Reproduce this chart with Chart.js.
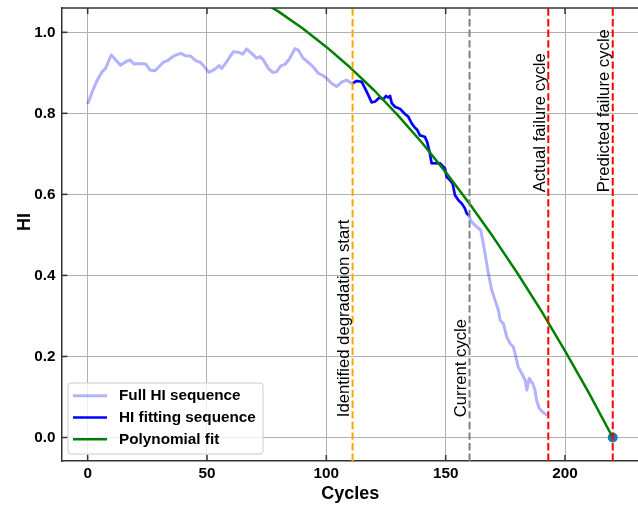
<!DOCTYPE html>
<html>
<head>
<meta charset="utf-8">
<script src="https://cdn.jsdelivr.net/npm/chart.js@4"></script>
<style>
html,body{margin:0;padding:0;overflow:hidden;background:#fff}
#wrap{width:644px;height:508px}
</style>
</head>
<body>
<div id="wrap"><canvas id="c" width="644" height="508"></canvas></div>
<script>
// ---------------- data ----------------
const fullCycles = [0,1.9,4,6.1,7.5,9.9,11.7,13.8,15.9,17.7,19.4,21.5,24.3,26.1,28.1,29.9,31.7,33.4,36.2,39,41.1,43.2,45.3,47.4,49.5,50.8,53.3,55.1,56.2,58.2,61,63.1,65,66.6,68.7,70.8,72.2,73.6,75.7,77.5,79.2,80.9,82.7,84.5,86.9,88.3,90.3,92.4,94.5,96.6,98.7,100.2,102.2,104.3,106.4,108.5,110.6,
  111,112.7,114.8,116.2,117.6,119,120.4,122.2,123.9,125,126,126.7,127.4,128.8,130.9,133,134.3,135.8,137.2,138.1,139.2,141.3,142.3,143.4,144.1,147.6,149.7,150.4,151.8,152.9,153.9,155.3,156.7,158.1,158.8,159.5,
  160.9,163,164.7,166.5,167.9,169.3,170.7,172.1,172.8,174.2,175.6,177,178.3,179.1,180.4,181.9,183.3,184,185,186.5,187.4,188.1,189.2,190.9,192.6];
const fullHI = [0.823,0.853,0.882,0.903,0.911,0.944,0.932,0.919,0.927,0.932,0.922,0.923,0.922,0.907,0.905,0.915,0.926,0.930,0.942,0.948,0.942,0.941,0.930,0.925,0.911,0.901,0.909,0.918,0.911,0.927,0.952,0.951,0.946,0.959,0.948,0.936,0.940,0.932,0.911,0.901,0.903,0.917,0.921,0.934,0.960,0.956,0.936,0.926,0.915,0.899,0.893,0.886,0.874,0.866,0.877,0.882,0.874,
  0.874,0.880,0.878,0.862,0.845,0.827,0.829,0.839,0.835,0.843,0.839,0.843,0.825,0.816,0.811,0.798,0.792,0.775,0.764,0.759,0.746,0.742,0.728,0.701,0.677,0.677,0.664,0.643,0.635,0.627,0.598,0.586,0.578,0.565,0.553,0.549,
  0.532,0.520,0.512,0.454,0.405,0.364,0.339,0.314,0.290,0.281,0.248,0.232,0.224,0.207,0.174,0.158,0.141,0.117,0.146,0.133,0.117,0.092,0.072,0.061,0.055];

const fitCycles = [111,112.7,114.8,116.2,117.6,119,120.4,122.2,123.9,125,126,126.7,127.4,128.8,130.9,133,134.3,135.8,137.2,138.1,139.2,141.3,142.3,143.4,144.1,147.6,149.7,150.4,151.8,152.9,153.9,155.3,156.7,158.1,158.8,159.5];
const fitHI = [0.874,0.880,0.878,0.862,0.845,0.827,0.829,0.839,0.835,0.843,0.839,0.843,0.825,0.816,0.811,0.798,0.792,0.775,0.764,0.759,0.746,0.742,0.728,0.701,0.677,0.677,0.664,0.643,0.635,0.627,0.598,0.586,0.578,0.565,0.553,0.549];

const polyCycles = [70,75,80,90,100,110,120,130,140,150,160,170,180,190,200,210,220];
const polyHI = [1.086,1.069,1.051,1.010,0.964,0.913,0.857,0.795,0.728,0.655,0.577,0.494,0.406,0.313,0.214,0.110,0.0];

const predCycle = [220];
const predHI = [0.0];

const vlineCycles = [111,160,193,220];
const vlineLabels = ['Identified degradation start','Current cycle','Actual failure cycle','Predicted failure cycle'];
const vlineLabelHI = [0.05,0.05,0.605,0.605];
const vlineColors = ['#ffa500','#808080','#ff0000','#ff0000'];

const xTicks = [0,50,100,150,200];
const yTicks = [0.0,0.2,0.4,0.6,0.8,1.0];
const xMin = -11, xMax = 231, yMin = -0.058, yMax = 1.06;

// ---------------- chart ----------------
const FONT = '"Liberation Sans", Arial, Helvetica, sans-serif';
const toXY = (xs, ys) => xs.map((x, i) => ({x: x, y: ys[i]}));

const datasets = [
  {label:'Full HI sequence', data: toXY(fullCycles, fullHI), borderColor:'rgba(0,0,255,0.3)', borderWidth:3, pointRadius:0, order:5, clip:0, borderJoinStyle:'round', inLegend:true},
  {label:'HI fitting sequence', data: toXY(fitCycles, fitHI), borderColor:'#0000ff', borderWidth:2.5, pointRadius:0, order:4, clip:0, borderJoinStyle:'round', inLegend:true},
  {label:'Polynomial fit', data: toXY(polyCycles, polyHI), borderColor:'#008000', borderWidth:2.5, pointRadius:0, order:3, clip:0, borderJoinStyle:'round', inLegend:true}
];
vlineCycles.forEach((c, i) => {
  datasets.push({label: vlineLabels[i], data:[{x:c, y:yMin},{x:c, y:yMax}], borderColor: vlineColors[i], borderWidth:2, borderDash:[7.4,3.2], pointRadius:0, order:2, clip:0});
});
datasets.push({type:'scatter', label:'Predicted', data: toXY(predCycle, predHI), pointRadius:5, pointBackgroundColor:'#1f77b4', pointBorderColor:'#1f77b4', borderWidth:0, order:6, clip:false});

const decor = {
  id: 'decor',
  afterDatasetsDraw(chart) {
    const {ctx, chartArea: a, scales: {x: xs, y: ys}} = chart;
    ctx.save();
    // top spine + inward ticks
    ctx.strokeStyle = '#333'; ctx.lineWidth = 1.5;
    ctx.beginPath(); ctx.moveTo(a.left, a.top); ctx.lineTo(a.right + 2, a.top); ctx.stroke();
    const tl = 6;
    xTicks.forEach(v => {
      const p = xs.getPixelForValue(v);
      ctx.beginPath(); ctx.moveTo(p, a.bottom); ctx.lineTo(p, a.bottom - tl); ctx.stroke();
      ctx.beginPath(); ctx.moveTo(p, a.top); ctx.lineTo(p, a.top + tl); ctx.stroke();
    });
    yTicks.forEach(v => {
      const p = ys.getPixelForValue(v);
      ctx.beginPath(); ctx.moveTo(a.left, p); ctx.lineTo(a.left + tl, p); ctx.stroke();
    });
    // vertical line labels
    ctx.fillStyle = '#000';
    ctx.font = '16.7px ' + FONT;
    vlineCycles.forEach((c, i) => {
      const px = xs.getPixelForValue(c), py = ys.getPixelForValue(vlineLabelHI[i]);
      ctx.save(); ctx.translate(px, py); ctx.rotate(-Math.PI / 2);
      ctx.textAlign = 'left'; ctx.textBaseline = 'bottom';
      ctx.fillText(vlineLabels[i], 0, 0);
      ctx.restore();
    });
    // y axis title
    ctx.save();
    ctx.font = 'bold 18px ' + FONT;
    ctx.translate(25.5, 222); ctx.rotate(-Math.PI / 2);
    ctx.textAlign = 'center'; ctx.textBaseline = 'middle';
    ctx.fillText('HI', 0, 0);
    ctx.restore();
    // legend
    const lx = a.left + 6.6, ly = a.bottom - 78, lw = 195, lh = 71;
    ctx.fillStyle = 'rgba(255,255,255,0.8)';
    ctx.strokeStyle = '#cccccc'; ctx.lineWidth = 1;
    ctx.beginPath();
    if (ctx.roundRect) ctx.roundRect(lx, ly, lw, lh, 3); else ctx.rect(lx, ly, lw, lh);
    ctx.fill(); ctx.stroke();
    ctx.font = 'bold 15.3px ' + FONT;
    ctx.textAlign = 'left'; ctx.textBaseline = 'middle';
    chart.data.datasets.filter(d => d.inLegend).forEach((d, i) => {
      const ry = ly + 12.7 + i * 21.8;
      ctx.strokeStyle = d.borderColor; ctx.lineWidth = d.borderWidth;
      ctx.beginPath(); ctx.moveTo(lx + 5, ry); ctx.lineTo(lx + 39, ry); ctx.stroke();
      ctx.fillStyle = '#000';
      ctx.fillText(d.label, lx + 51, ry + 0.5);
    });
    ctx.restore();
  }
};

new Chart(document.getElementById('c'), {
  type: 'line',
  data: { datasets: datasets },
  options: {
    responsive: false,
    animation: false,
    devicePixelRatio: 1,
    layout: { padding: { top: 8, right: 1, bottom: 0, left: 0 } },
    plugins: { legend: { display: false }, tooltip: { enabled: false } },
    scales: {
      x: {
        type: 'linear', min: xMin, max: xMax,
        afterBuildTicks: s => { s.ticks = xTicks.map(v => ({value: v})); },
        afterFit: s => { s.height = 47; s.paddingLeft = 0; s.paddingRight = 0; },
        grid: { color: '#b0b0b0', lineWidth: 1, drawTicks: false },
        border: { color: '#333', width: 1.5 },
        ticks: { color: '#000', font: { family: FONT, size: 15.3, weight: 'bold' }, padding: 4, maxRotation: 0 },
        title: { display: true, text: 'Cycles', color: '#000', font: { family: FONT, size: 18, weight: 'bold' }, padding: { top: 0, bottom: 3 } }
      },
      y: {
        type: 'linear', min: yMin, max: yMax,
        afterBuildTicks: s => { s.ticks = yTicks.map(v => ({value: v})); },
        afterFit: s => { s.width = 61.4; s.paddingTop = 0; s.paddingBottom = 0; },
        grid: { color: '#b0b0b0', lineWidth: 1, drawTicks: false },
        border: { color: '#333', width: 1.5 },
        ticks: { color: '#000', font: { family: FONT, size: 15.3, weight: 'bold' }, padding: 6, callback: v => v.toFixed(1) },
        title: { display: false }
      }
    }
  },
  plugins: [decor]
});
</script>
</body>
</html>
